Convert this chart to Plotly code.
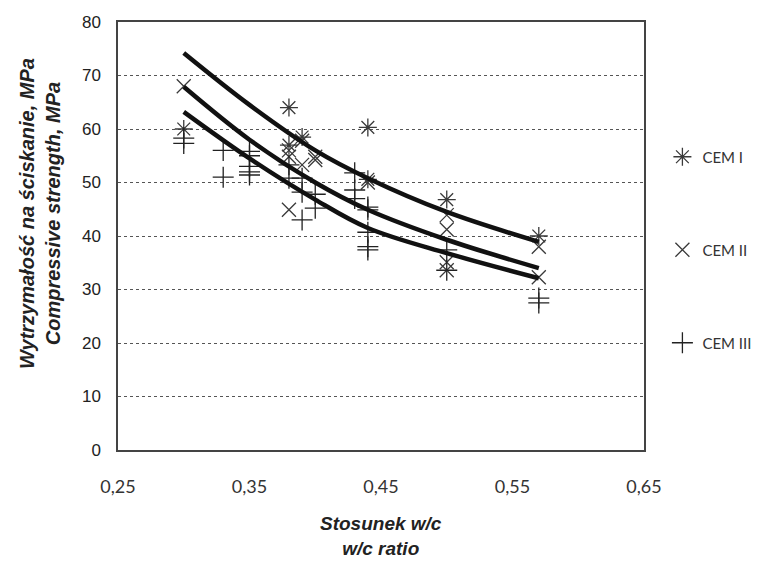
import plotly.graph_objects as go

# CEM I (asterisk)
cem1_x = [0.30, 0.38, 0.38, 0.39, 0.44, 0.44, 0.50, 0.57]
cem1_y = [60.0, 64.0, 57.0, 58.5, 60.3, 50.6, 46.8, 40.0]
# CEM II (x)
cem2_x = [0.30, 0.38, 0.38, 0.38, 0.39, 0.39, 0.40, 0.40, 0.44, 0.50, 0.50, 0.50, 0.50, 0.57, 0.57]
cem2_y = [68.0, 56.0, 54.8, 44.9, 57.8, 53.3, 54.8, 54.2, 50.0, 43.9, 41.2, 35.1, 33.6, 38.0, 32.3]
# CEM III (+)
cem3_x = [0.30, 0.30, 0.33, 0.33, 0.35, 0.35, 0.35, 0.35, 0.35, 0.38, 0.38, 0.39, 0.39, 0.39,
          0.40, 0.40, 0.43, 0.43, 0.43, 0.44, 0.44, 0.44, 0.44, 0.44, 0.50, 0.50, 0.57, 0.57]
cem3_y = [58.3, 57.3, 56.0, 51.0, 55.8, 55.0, 53.0, 52.0, 51.4, 53.3, 50.8, 50.8, 48.2, 43.0,
          47.8, 45.2, 51.8, 48.6, 47.0, 45.4, 44.9, 40.7, 38.0, 37.4, 37.4, 33.6, 28.4, 27.5]

# Trend curves
trend_x = [0.30, 0.35, 0.40, 0.44, 0.50, 0.57]
trend1_y = [74.2, 64.5, 56.0, 50.8, 44.5, 38.9]
trend2_y = [67.9, 58.0, 50.0, 44.9, 39.3, 34.0]
trend3_y = [63.2, 54.5, 46.8, 41.5, 36.8, 32.1]

x_ticks = [0.25, 0.35, 0.45, 0.55, 0.65]
y_ticks = [0, 10, 20, 30, 40, 50, 60, 70, 80]

mcol = "#3a3a3a"
fig = go.Figure()
fig.add_trace(go.Scatter(x=cem1_x, y=cem1_y, mode="markers", name="CEM I", legend="legend",
                         marker=dict(symbol="asterisk-open", size=15, color=mcol,
                                     line=dict(color=mcol, width=1.3))))
fig.add_trace(go.Scatter(x=cem2_x, y=cem2_y, mode="markers", name="CEM II", legend="legend2",
                         marker=dict(symbol="x-thin-open", size=14, color=mcol,
                                     line=dict(color=mcol, width=1.3))))
fig.add_trace(go.Scatter(x=cem3_x, y=cem3_y, mode="markers", name="CEM III", legend="legend3",
                         marker=dict(symbol="cross-thin-open", size=15, color="#222222",
                                     line=dict(color="#222222", width=1.3))))
for ty in (trend1_y, trend2_y, trend3_y):
    fig.add_trace(go.Scatter(x=trend_x, y=ty, mode="lines", showlegend=False,
                             line=dict(color="#111111", width=4.5, shape="spline")))

leg_common = dict(font=dict(family="Lato, Open Sans, sans-serif", size=15, color="#333333"),
                  bgcolor="rgba(0,0,0,0)", xanchor="left", yanchor="middle", itemwidth=30)
fig.update_layout(
    width=763, height=561,
    margin=dict(l=118, r=119, t=22, b=111, autoexpand=False),
    paper_bgcolor="white", plot_bgcolor="white",
    separators=", ",
    legend=dict(x=1.035, y=(450 - 157) / 428, **leg_common),
    legend2=dict(x=1.035, y=(450 - 250) / 428, **leg_common),
    legend3=dict(x=1.035, y=(450 - 343) / 428, **leg_common),
    xaxis=dict(range=[0.25, 0.65], tickvals=x_ticks, tickformat=".2f", showgrid=False, zeroline=False,
               showline=True, mirror=True, linecolor="#444444", linewidth=1.5, ticks="",
               ticklabelstandoff=20,
               tickfont=dict(family="Lato, Open Sans, sans-serif", size=18, color="#333333")),
    yaxis=dict(range=[0, 80], tickvals=y_ticks, showgrid=True, gridcolor="#555555", griddash="dot",
               gridwidth=1, zeroline=False, showline=True, mirror=True, linecolor="#444444",
               linewidth=1.5, ticks="", ticklabelstandoff=12,
               tickfont=dict(family="Liberation Sans, Arial, sans-serif", size=17, color="#222222")),
    annotations=[
        dict(text="Wytrzymałość na ściskanie, MPa<br>Compressive strength, MPa", xref="paper", yref="paper",
             x=(40 - 118) / 526, y=(450 - 214) / 428, xanchor="center", yanchor="middle",
             textangle=-90, showarrow=False,
             font=dict(family="Liberation Sans, Arial, sans-serif", size=20, color="#222222",
                       weight="bold", style="italic")),
        dict(text="Stosunek w/c<br>w/c ratio", xref="paper", yref="paper",
             x=0.5, y=(450 - 536) / 428, xanchor="center", yanchor="middle", showarrow=False,
             font=dict(family="Liberation Sans, Arial, sans-serif", size=19, color="#222222",
                       weight="bold", style="italic")),
    ],
)
fig.write_html("out.html")
